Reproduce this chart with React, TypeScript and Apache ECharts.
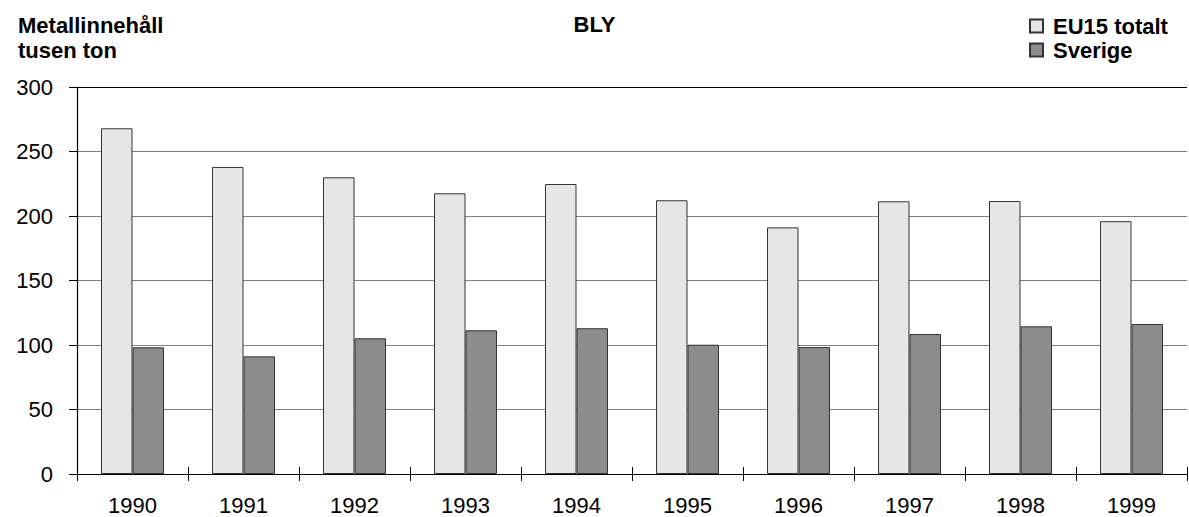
import { useEffect, useRef } from "react";
import * as echarts from "echarts";

const years = ["1990", "1991", "1992", "1993", "1994", "1995", "1996", "1997", "1998", "1999"];
const eu15Totalt = [268, 238, 230, 217.6, 224.8, 212.2, 191.2, 211.4, 211.6, 196];
const sverige = [98.2, 91.2, 105.2, 111.4, 113, 100.2, 98.4, 108.5, 114.5, 116.3];
const seriesNames = ["EU15 totalt", "Sverige"];
const chartTitle = "BLY";
const yAxisTitle = "Metallinnehåll\ntusen ton";

const FONT = "'Liberation Sans', Arial, sans-serif";

export default function App() {
  const ref = useRef<HTMLDivElement>(null);
  useEffect(() => {
    document.body.style.margin = "0";
    if (!ref.current) return;
    const chart = echarts.init(ref.current, undefined, { renderer: "svg" });
    chart.setOption({
      animation: false,
      backgroundColor: "#ffffff",
      textStyle: { fontFamily: FONT },
      title: [
        {
          text: chartTitle,
          left: "center",
          top: 8,
          textStyle: { fontFamily: FONT, fontSize: 22, fontWeight: "bold", color: "#000" },
        },
        {
          text: yAxisTitle,
          left: 13,
          top: 8,
          textStyle: { fontFamily: FONT, fontSize: 22, fontWeight: "bold", color: "#000", lineHeight: 25 },
        },
      ],
      legend: {
        orient: "vertical",
        left: 1024,
        top: 10,
        itemWidth: 13,
        itemHeight: 13,
        itemGap: 2,
        icon: "rect",
        data: seriesNames,
        textStyle: {
          fontFamily: FONT,
          fontSize: 22,
          fontWeight: "bold",
          color: "#000",
          lineHeight: 22,
          padding: [0, 0, 0, 5],
        },
      },
      grid: { left: 77, right: 2, top: 87, bottom: 43, containLabel: false },
      xAxis: [
        {
          type: "category",
          data: years,
          axisLine: { lineStyle: { color: "#000", width: 1.2 } },
          axisTick: { show: true, inside: false, length: 7, lineStyle: { color: "#000" } },
          axisLabel: { fontFamily: FONT, fontSize: 22, color: "#000", margin: 20 },
          splitLine: { show: false },
        },
        {
          type: "category",
          data: years,
          position: "bottom",
          axisLine: { show: false },
          axisTick: { show: true, inside: true, length: 7, lineStyle: { color: "#000" } },
          axisLabel: { show: false },
          splitLine: { show: false },
        },
      ],
      yAxis: {
        type: "value",
        min: 0,
        max: 300,
        interval: 50,
        axisLine: { show: true, lineStyle: { color: "#000", width: 1.2 } },
        axisTick: { show: true, inside: false, length: 8, lineStyle: { color: "#000" } },
        axisLabel: { fontFamily: FONT, fontSize: 22, color: "#000", margin: 24 },
        splitLine: {
          show: true,
          lineStyle: {
            color: ["#808080", "#808080", "#808080", "#808080", "#808080", "#808080", "#000000"],
            width: 1.2,
          },
        },
      },
      series: [
        {
          name: seriesNames[0],
          type: "bar",
          data: eu15Totalt,
          barWidth: 31.5,
          barGap: "0%",
          itemStyle: { color: "#e6e6e6", borderColor: "#333333", borderWidth: 1 },
        },
        {
          name: seriesNames[1],
          type: "bar",
          data: sverige,
          barWidth: 31.5,
          barGap: "0%",
          itemStyle: { color: "#8c8c8c", borderColor: "#333333", borderWidth: 1 },
        },
      ],
    });
    return () => chart.dispose();
  }, []);
  return <div ref={ref} style={{ width: 1189, height: 517 }} />;
}
